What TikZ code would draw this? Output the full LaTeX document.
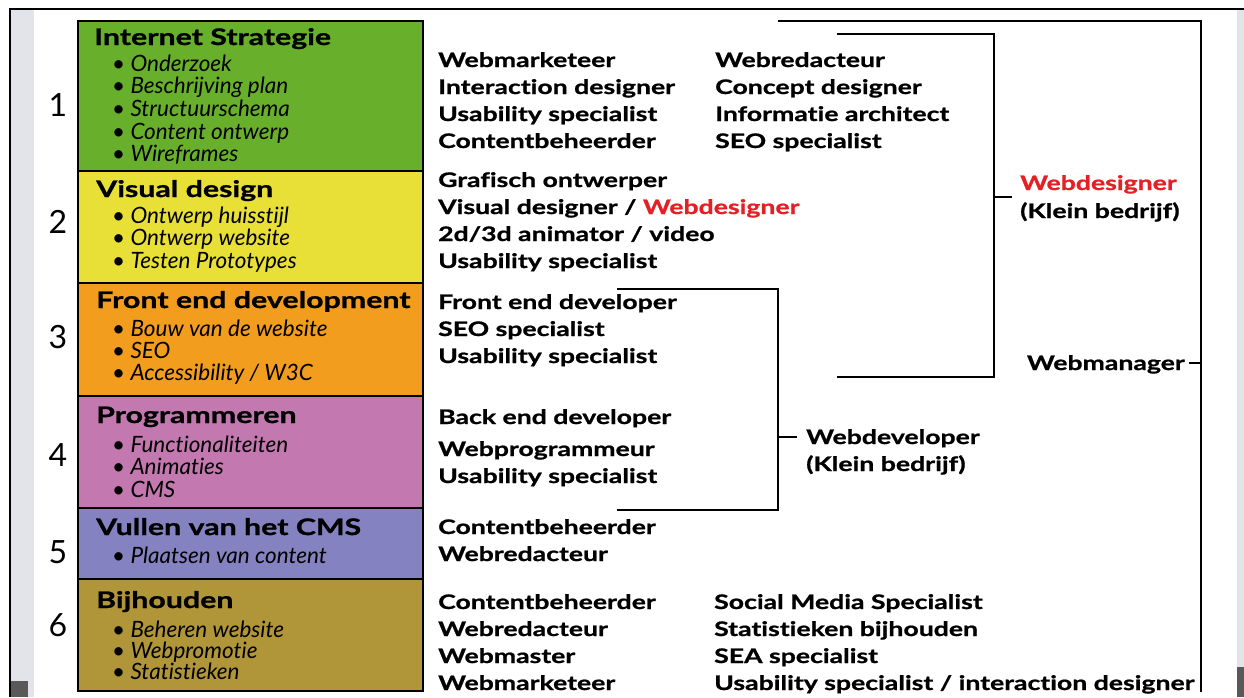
\documentclass[tikz,border=0pt]{standalone}
\usepackage{fontspec}
\setmainfont{Lato}[Ligatures=NoCommon, BoldFeatures={FakeStretch=1.33, FakeBold=1}]
\usepackage{xcolor}
\usetikzlibrary{positioning}

\definecolor{stratgreen}{RGB}{104,176,44}
\definecolor{visyellow}{RGB}{232,224,54}
\definecolor{frontorange}{RGB}{243,157,30}
\definecolor{progpink}{RGB}{196,120,176}
\definecolor{cmsblue}{RGB}{132,130,192}
\definecolor{keepolive}{RGB}{176,150,56}
\definecolor{wdred}{RGB}{228,32,38}
\definecolor{edgegray}{RGB}{226,228,233}

\tikzset{
  phase/.style={draw=black, line width=1.5pt, minimum width=345, anchor=north west, inner sep=0},
  title/.style={anchor=base west, inner sep=0, font=\fontsize{22.8}{22.8}\selectfont\bfseries},
  item/.style={anchor=base west, inner sep=0, font=\fontsize{22.5}{22.5}\selectfont\itshape},
  role/.style={anchor=base west, inner sep=0, font=\fontsize{20}{20}\selectfont\bfseries},
  num/.style={font=\fontsize{32}{32}\selectfont},
  bracket/.style={line width=2pt}
}

\begin{document}
\begin{tikzpicture}[x=1pt, y=-1pt]
    \useasboundingbox (0,0) rectangle (1244,697);
    % 边框
    \fill[edgegray] (11,10) rectangle (34,697);
    \fill[edgegray] (1237,10) rectangle (1244,697);
    \fill[black!65] (10,681) rectangle (28,697);
    \fill[black!65] (1237,667) rectangle (1244,697);
    \draw[line width=1.5pt] (10,697) -- (10,9) -- (1244,9);

    % 六个阶段
    \node[phase, fill=stratgreen, minimum height=150] (p1) at (77,20) {};
    \node[phase, fill=visyellow, minimum height=112] (p2) at (77,170) {};
    \node[phase, fill=frontorange, minimum height=113] (p3) at (77,282) {};
    \node[phase, fill=progpink, minimum height=112] (p4) at (77,395) {};
    \node[phase, fill=cmsblue, minimum height=71] (p5) at (77,507) {};
    \node[phase, fill=keepolive, minimum height=112] (p6) at (77,578) {};

    % 编号
    \foreach \n/\y in {1/105, 2/222, 3/337, 4/455, 5/552, 6/625}
      \node[num] (n\n) at (58,\y) {\n};

    % 阶段标题与要点
    \node[title] (t1) at (94,45) {Internet Strategie};
    \foreach \t [count=\i] in {Onderzoek, Beschrijving plan, Structuurschema, Content ontwerp, Wireframes}
      \node[item] (s1-\i) at (112,{71+22.7*(\i-1)}) {• \t};
    \node[title] (t2) at (96,197) {Visual design};
    \foreach \t [count=\i] in {Ontwerp huisstijl, Ontwerp website, Testen Prototypes}
      \node[item] (s2-\i) at (112,{223+22.5*(\i-1)}) {• \t};
    \node[title] (t3) at (96,308) {Front end development};
    \foreach \t [count=\i] in {Bouw van de website, SEO, Accessibility / W3C}
      \node[item] (s3-\i) at (112,{336+22*(\i-1)}) {• \t};
    \node[title] (t4) at (96,423) {Programmeren};
    \foreach \t [count=\i] in {Functionaliteiten, Animaties, CMS}
      \node[item] (s4-\i) at (112,{452+22.5*(\i-1)}) {• \t};
    \node[title] (t5) at (96,535) {Vullen van het CMS};
    \node[item] (s5-1) at (112,563) {• Plaatsen van content};
    \node[title] (t6) at (96,608) {Bijhouden};
    \foreach \t [count=\i] in {Beheren website, Webpromotie, Statistieken}
      \node[item] (s6-\i) at (112,{637+21*(\i-1)}) {• \t};

    % functies
    \foreach \t [count=\i] in {Webmarketeer, Interaction designer, Usability specialist, Contentbeheerder}
      \node[role] (r1a-\i) at (438,{67+27*(\i-1)}) {\t};
    \foreach \t [count=\i] in {Webredacteur, Concept designer, Informatie architect, SEO specialist}
      \node[role] (r1b-\i) at (715,{67+27*(\i-1)}) {\t};
    \node[role] (r2-1) at (438,187) {Grafisch ontwerper};
    \node[role] (r2-2) at (438,214) {Visual designer / \textcolor{wdred}{Webdesigner}};
    \node[role] (r2-3) at (438,241) {2d/3d animator / video};
    \node[role] (r2-4) at (438,268) {Usability specialist};
    \foreach \t [count=\i] in {Front end developer, SEO specialist, Usability specialist}
      \node[role] (r3-\i) at (438,{309+27*(\i-1)}) {\t};
    \node[role] (r4-1) at (438,424) {Back end developer};
    \node[role] (r4-2) at (438,456) {Webprogrammeur};
    \node[role] (r4-3) at (438,483) {Usability specialist};
    \node[role] (r5-1) at (438,534) {Contentbeheerder};
    \node[role] (r5-2) at (438,561) {Webredacteur};
    \foreach \t [count=\i] in {Contentbeheerder, Webredacteur, Webmaster, Webmarketeer}
      \node[role] (r6a-\i) at (438,{609+27*(\i-1)}) {\t};
    \foreach \t [count=\i] in {Social Media Specialist, Statistieken bijhouden, SEA specialist, Usability specialist / interaction designer}
      \node[role] (r6b-\i) at (714,{609+27*(\i-1)}) {\t};

    % 括号
    \node[role] (wdes) at (1020,190) {\textcolor{wdred}{Webdesigner}};
    \node[role] (wdes2) at (1020,218) {(Klein bedrijf)};
    \coordinate (wdestick) at (994,197);
    \draw[bracket] (837,34) -| (994,377) -- (837,377);
    \draw[bracket] (wdestick) -- ([xshift=-8]wdes.west |- wdestick);

    \node[role] (wdev) at (806,444) {Webdeveloper};
    \node[role] (wdev2) at (806,471) {(Klein bedrijf)};
    \coordinate (wdevtick) at (778,437);
    \draw[bracket] (617,289) -| (778,510) -- (617,510);
    \draw[bracket] (wdevtick) -- ([xshift=-9]wdev.west |- wdevtick);

    \node[role, anchor=base east] (wman) at (1185,370) {Webmanager};
    \coordinate (wmantick) at (1201,363);
    \draw[bracket] (778,21) -| (1201,692);
    \draw[bracket] (wmantick) -- ([xshift=4]wman.east |- wmantick);
  \end{tikzpicture}
\end{document}
